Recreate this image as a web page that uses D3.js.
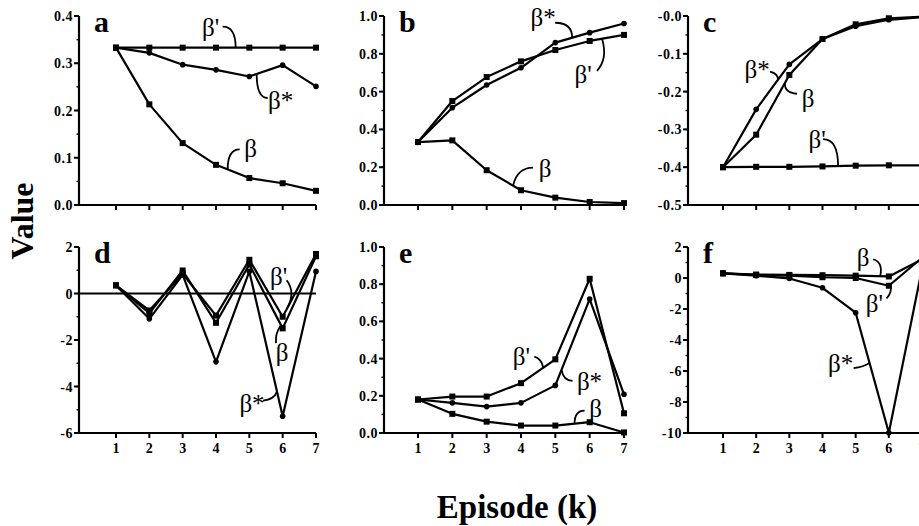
<!DOCTYPE html>
<html>
<head>
<meta charset="utf-8">
<script src="https://d3js.org/d3.v7.min.js"></script>
<style>
body { margin: 0; background: #fff; }
text { font-family: "Liberation Serif", "Times New Roman", serif; fill: #000; }
</style>
</head>
<body>
<div id="chart"></div>
<script>
var w = 919, h = 526;

var episodes = [1, 2, 3, 4, 5, 6, 7];

// a
var aBeta      = [0.333, 0.213, 0.131, 0.085, 0.057, 0.046, 0.030];
var aBetaPrime = [0.333, 0.333, 0.333, 0.333, 0.333, 0.333, 0.333];
var aBetaStar  = [0.333, 0.322, 0.297, 0.286, 0.272, 0.296, 0.251];
// b
var bBeta      = [0.333, 0.342, 0.184, 0.078, 0.039, 0.016, 0.010];
var bBetaPrime = [0.333, 0.550, 0.677, 0.760, 0.820, 0.868, 0.900];
var bBetaStar  = [0.333, 0.515, 0.635, 0.726, 0.859, 0.912, 0.960];
// c
var cBeta      = [-0.400, -0.314, -0.156, -0.061, -0.022, -0.006, -0.002];
var cBetaPrime = [-0.400, -0.399, -0.399, -0.398, -0.396, -0.395, -0.395];
var cBetaStar  = [-0.400, -0.247, -0.128, -0.061, -0.027, -0.010, -0.003];
// d
var dBeta      = [0.35, -0.85, 0.99, -1.26, 1.25, -1.50, 1.60];
var dBetaPrime = [0.35, -0.73, 0.85, -0.95, 1.45, -1.00, 1.70];
var dBetaStar  = [0.35, -1.09, 0.80, -2.94, 0.95, -5.28, 0.95];
// e
var eBeta      = [0.180, 0.103, 0.061, 0.040, 0.040, 0.058, 0.003];
var eBetaPrime = [0.180, 0.196, 0.196, 0.268, 0.396, 0.829, 0.106];
var eBetaStar  = [0.180, 0.162, 0.142, 0.162, 0.256, 0.720, 0.208];
// f
var fBeta      = [0.30, 0.22, 0.20, 0.18, 0.15, 0.10, 1.20];
var fBetaPrime = [0.30, 0.20, 0.15, 0.05, 0.00, -0.50, 1.30];
var fBetaStar  = [0.30, 0.15, -0.03, -0.63, -2.24, -9.98, 0.60];

var panelNames = ['a', 'b', 'c', 'd', 'e', 'f'];
var yDomains = [[0, 0.4], [0, 1], [-0.5, 0], [-6, 2], [0, 1], [-10, 2]];
var yTicks = [
  [0, 0.1, 0.2, 0.3, 0.4],
  [0, 0.2, 0.4, 0.6, 0.8, 1.0],
  [-0.5, -0.4, -0.3, -0.2, -0.1, 0],
  [-6, -4, -2, 0, 2],
  [0, 0.2, 0.4, 0.6, 0.8, 1.0],
  [-10, -8, -6, -4, -2, 0, 2]
];
var yMinor = [0.05, 0.1, 0.05, 1, 0.1, 1];

// label annotations: panel, series, position on line (episode), text, text offset, leader start, leader bend
var notes = [
  [0, 1, 4.59, "β'", -25, -20, -13, -21, 0, -21],
  [0, 2, 5.22, "β*", 24, 27, 11, 24, 0, 24],
  [0, 0, 4.35, "β", 23, -20, 12, -20, 0, -20],
  [1, 2, 5.49, "β*", -29, -20, -17, -15, 0, -15],
  [1, 1, 6.36, "β'", -19, 36, -5, 32, 6, 20],
  [1, 0, 3.77, "β", 32, -17, 20, -18, 4, -18],
  [2, 2, 2.66, "β*", -21, -10, -8, -8, 0, -6],
  [2, 0, 2.87, "β", 23, 16, 12, 11, -1, 10],
  [2, 1, 4.47, "β'", -21, -26, -15, -27, 0, -27],
  [3, 1, 6.15, "β'", -9, -30, -1, -27, 8, -15],
  [3, 0, 5.95, "β", 1, 28, -5, 18, -6, 8],
  [3, 2, 5.83, "β*", -25, 12, -14, 9, -3, 8],
  [4, 1, 4.65, "β'", -22, -11, -9, -11, -2, -9],
  [4, 2, 5.18, "β*", 28, 12, 11, 11, 2, 11],
  [4, 0, 5.56, "β", 21, -15, 10, -13, 0, -13],
  [5, 0, 5.74, "β", -17, -18, -7, -17, 3, -14],
  [5, 1, 6.05, "β'", -16, 20, -4, 14, 2, 8],
  [5, 2, 5.42, "β*", -29, 1, -16, 5, -6, 4]
];

var allSeries = [
  [aBeta, aBetaPrime, aBetaStar],
  [bBeta, bBetaPrime, bBetaStar],
  [cBeta, cBetaPrime, cBetaStar],
  [dBeta, dBetaPrime, dBetaStar],
  [eBeta, eBetaPrime, eBetaStar],
  [fBeta, fBetaPrime, fBetaStar]
];

var colAxis = [79, 384, 688], colX1 = [116, 418, 723], colX7 = [316, 624, 922];
var rowTop = [16, 247], rowBottom = [205, 433];

var svg = d3.select("#chart").append("svg")
    .attr("width", w)
    .attr("height", h);

function fmtTick(p, d) {
  if (p == 3 || p == 5) return (d < 0 ? "-" : "") + Math.abs(d);
  if (p == 2) return (d <= 0 ? "-" : "") + Math.abs(d).toFixed(1);
  return d.toFixed(1);
}

var panels = panelNames.map(function(name, p) {
  var col = p % 3, row = Math.floor(p / 3);
  var x = d3.scaleLinear().domain([1, 7]).range([colX1[col], colX7[col]]);
  var y = d3.scaleLinear().domain(yDomains[p]).range([rowBottom[row], rowTop[row]]);
  return {name: name, p: p, col: col, row: row, x: x, y: y, ax: colAxis[col]};
});

panels.forEach(function(P) {
  var g = svg.append("g");
  var x = P.x, y = P.y, p = P.p;
  var y0 = y.range()[0], y1 = y.range()[1];

  // zero line in panel d
  if (p == 3) {
    g.append("line").attr("x1", P.ax).attr("x2", x(7)).attr("y1", y(0)).attr("y2", y(0))
      .attr("stroke", "#000").attr("stroke-width", 2);
  }

  // series lines
  var line = d3.line().x(function(d, i) { return x(episodes[i]); }).y(function(d) { return y(d); });
  allSeries[p].forEach(function(vals, s) {
    g.append("path").attr("d", line(vals)).attr("fill", "none")
      .attr("stroke", "#000").attr("stroke-width", 2.2).attr("stroke-linejoin", "round");
    if (s < 2) {
      g.selectAll(null).data(vals).enter().append("rect")
        .attr("x", function(d, i) { return x(episodes[i]) - 3; })
        .attr("y", function(d) { return y(d) - 3; })
        .attr("width", 6).attr("height", 6).attr("fill", "#000");
    } else {
      g.selectAll(null).data(vals).enter().append("circle")
        .attr("cx", function(d, i) { return x(episodes[i]); })
        .attr("cy", function(d) { return y(d); })
        .attr("r", 2.8).attr("fill", "#000");
    }
  });

  // axes
  g.append("line").attr("x1", P.ax).attr("x2", P.ax).attr("y1", y1).attr("y2", y0)
    .attr("stroke", "#000").attr("stroke-width", 2.2);
  g.append("line").attr("x1", P.ax).attr("x2", x(7)).attr("y1", y0).attr("y2", y0)
    .attr("stroke", "#000").attr("stroke-width", 2.2);

  var dom = yDomains[p];
  var minor = d3.range(dom[0], dom[1] + 1e-9, yMinor[p]);
  g.selectAll(null).data(minor).enter().append("line")
    .attr("x1", P.ax - 2.5).attr("x2", P.ax)
    .attr("y1", function(d) { return y(d); }).attr("y2", function(d) { return y(d); })
    .attr("stroke", "#000").attr("stroke-width", 1.4);

  g.selectAll(null).data(yTicks[p]).enter().append("line")
    .attr("x1", P.ax - 5).attr("x2", P.ax)
    .attr("y1", function(d) { return y(d); }).attr("y2", function(d) { return y(d); })
    .attr("stroke", "#000").attr("stroke-width", 2);
  g.selectAll(null).data(yTicks[p]).enter().append("text")
    .attr("x", P.ax - 6).attr("y", function(d) { return y(d) + 5; })
    .attr("text-anchor", "end").attr("font-size", "14px").attr("font-weight", "bold")
    .attr("letter-spacing", "0.5px")
    .text(function(d) { return fmtTick(p, d); });

  g.selectAll(null).data(episodes).enter().append("line")
    .attr("x1", function(d) { return x(d); }).attr("x2", function(d) { return x(d); })
    .attr("y1", y0).attr("y2", y0 + 5)
    .attr("stroke", "#000").attr("stroke-width", 2);
  if (P.row == 1) {
    g.selectAll(null).data(episodes).enter().append("text")
      .attr("x", function(d) { return x(d); }).attr("y", y0 + 20)
      .attr("text-anchor", "middle").attr("font-size", "14px").attr("font-weight", "bold")
      .text(function(d) { return d; });
  }

  // panel letter
  g.append("text").attr("x", P.ax + 15).attr("y", y1 + 16)
    .attr("font-size", "30px").attr("font-weight", "bold").text(P.name);
});

// series labels with curved leaders
notes.forEach(function(n) {
  var P = panels[n[0]];
  var vals = allSeries[n[0]][n[1]];
  var i = Math.min(Math.floor(n[2]) - 1, 5), f = n[2] - (i + 1);
  var v = vals[i] + f * (vals[i + 1] - vals[i]);
  var px = P.x(n[2]), py = P.y(v);
  svg.append("path")
    .attr("d", "M" + (px + n[6]) + "," + (py + n[7]) + "Q" + (px + n[8]) + "," + (py + n[9]) + " " + px + "," + py)
    .attr("fill", "none").attr("stroke", "#000").attr("stroke-width", 1.8);
  svg.append("text").attr("x", px + n[4]).attr("y", py + n[5] + 8)
    .attr("text-anchor", "middle").attr("font-size", "25px")
    .text(n[3]);
});

svg.append("text").attr("transform", "translate(33,221) rotate(-90)")
  .attr("text-anchor", "middle").attr("font-size", "32px").attr("font-weight", "bold")
  .text("Value");
svg.append("text").attr("x", 517).attr("y", 518)
  .attr("text-anchor", "middle").attr("font-size", "33px").attr("font-weight", "bold")
  .text("Episode (k)");
</script>
</body>
</html>
